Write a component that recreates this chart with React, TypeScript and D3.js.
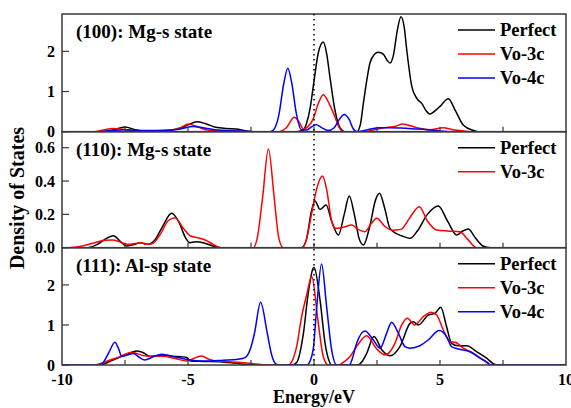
import React from "react";
import * as d3 from "d3";

type Pt = [number, number];

// ---------- data: (energy eV, DOS) ----------
const p100Perfect: Pt[] = [[-10,0],[-8.4,0],[-8.0,0.04],[-7.5,0.12],[-7.1,0.05],[-6.6,0.02],[-6.0,0.03],[-5.4,0.07],[-5.0,0.17],[-4.65,0.25],[-4.3,0.2],[-3.9,0.11],[-3.5,0.08],[-3.1,0.07],[-2.7,0.02],[-2.4,0],[-0.7,0],[-0.45,0.03],[-0.3,0.2],[-0.15,0.6],[-0.03,1.12],[0.17,1.96],[0.37,2.23],[0.5,1.95],[0.63,1.37],[0.83,0.54],[1.03,0.1],[1.23,0],[1.7,0],[1.83,0.15],[1.96,0.71],[2.1,1.3],[2.22,1.71],[2.4,1.93],[2.55,1.98],[2.75,1.93],[2.9,1.78],[3.02,1.71],[3.15,1.9],[3.3,2.5],[3.45,2.86],[3.58,2.6],[3.68,2.04],[3.88,1.13],[4.08,0.83],[4.28,0.7],[4.45,0.52],[4.6,0.44],[4.8,0.52],[5.0,0.63],[5.33,0.82],[5.6,0.54],[5.93,0.16],[6.33,0.03],[6.52,0],[10,0]];
const p100Vo3c: Pt[] = [[-10,0],[-8.7,0],[-8.3,0.05],[-8.0,0.08],[-7.6,0.06],[-7.2,0.02],[-6.5,0.01],[-5.8,0.03],[-5.3,0.1],[-4.98,0.19],[-4.7,0.14],[-4.3,0.05],[-3.8,0.02],[-3.0,0.01],[-2.5,0],[-1.4,0],[-1.1,0.1],[-0.78,0.36],[-0.6,0.25],[-0.42,0.07],[-0.25,0.12],[-0.03,0.32],[0.17,0.7],[0.37,0.92],[0.6,0.7],[0.83,0.37],[1.0,0.1],[1.16,0],[2.0,0],[2.4,0.05],[2.8,0.1],[3.2,0.13],[3.54,0.19],[3.8,0.15],[4.08,0.1],[4.6,0.05],[5.13,0.1],[5.5,0.05],[5.8,0.03],[6.2,0],[10,0]];
const p100Vo4c: Pt[] = [[-10,0],[-8.5,0],[-8.0,0.03],[-7.5,0.05],[-7.0,0.03],[-6.0,0.03],[-5.3,0.07],[-4.8,0.13],[-4.4,0.1],[-3.8,0.04],[-3.0,0.02],[-2.3,0],[-1.75,0],[-1.6,0.05],[-1.4,0.4],[-1.2,1.2],[-1.04,1.58],[-0.88,1.2],[-0.7,0.45],[-0.5,0.05],[-0.3,0.04],[-0.1,0.12],[0.09,0.17],[0.3,0.1],[0.56,0.03],[0.8,0.1],[1.0,0.3],[1.2,0.43],[1.4,0.3],[1.55,0.08],[1.7,0],[2.0,0.03],[2.55,0.1],[3.0,0.1],[3.45,0.09],[4.0,0.07],[4.5,0.05],[5.0,0.02],[5.4,0],[10,0]];

const p110Perfect: Pt[] = [[-10,0],[-9.0,0],[-8.6,0.02],[-8.3,0.05],[-7.96,0.072],[-7.7,0.04],[-7.43,0.01],[-7.1,0.02],[-6.9,0.03],[-6.6,0.02],[-6.3,0.05],[-6.0,0.13],[-5.65,0.206],[-5.35,0.15],[-5.1,0.06],[-4.92,0.03],[-4.7,0.035],[-4.4,0.03],[-4.0,0.01],[-3.7,0],[-0.5,0],[-0.3,0.05],[-0.1,0.22],[0.04,0.28],[0.24,0.23],[0.48,0.256],[0.7,0.16],[0.97,0.076],[1.2,0.2],[1.4,0.31],[1.6,0.2],[1.8,0.05],[1.96,0.016],[2.2,0.12],[2.45,0.29],[2.6,0.326],[2.8,0.24],[3.0,0.12],[3.15,0.096],[3.5,0.07],[3.81,0.056],[4.1,0.1],[4.5,0.2],[4.93,0.25],[5.3,0.16],[5.66,0.076],[5.9,0.1],[6.12,0.112],[6.4,0.06],[6.7,0.01],[7.0,0],[10,0]];
const p110Vo3c: Pt[] = [[-10,0],[-9.7,0],[-9.2,0.01],[-8.7,0.03],[-8.3,0.045],[-8.0,0.046],[-7.7,0.035],[-7.4,0.02],[-7.1,0.025],[-6.9,0.03],[-6.6,0.02],[-6.4,0.025],[-6.1,0.08],[-5.8,0.16],[-5.52,0.18],[-5.2,0.12],[-4.9,0.07],[-4.6,0.06],[-4.3,0.045],[-4.0,0.02],[-3.7,0],[-2.4,0],[-2.25,0.06],[-2.04,0.3],[-1.81,0.592],[-1.58,0.3],[-1.4,0.06],[-1.22,0],[-0.45,0],[-0.3,0.05],[-0.1,0.2],[0.1,0.35],[0.34,0.43],[0.5,0.35],[0.7,0.16],[0.83,0.116],[1.1,0.12],[1.5,0.136],[1.75,0.11],[2.02,0.096],[2.25,0.14],[2.49,0.176],[2.8,0.13],[3.1,0.105],[3.45,0.11],[3.8,0.18],[4.18,0.246],[4.5,0.16],[4.87,0.106],[5.3,0.1],[5.79,0.096],[6.1,0.05],[6.46,0],[10,0]];

const p111Perfect: Pt[] = [[-10,0],[-8.5,0],[-8.36,0.02],[-8.0,0.12],[-7.7,0.2],[-7.3,0.3],[-7.01,0.35],[-6.75,0.3],[-6.5,0.21],[-6.25,0.23],[-6.04,0.25],[-5.6,0.22],[-5.05,0.19],[-4.9,0.1],[-4.4,0.09],[-3.73,0.08],[-3.2,0.05],[-2.8,0.02],[-2.4,0],[-0.85,0],[-0.69,0.06],[-0.42,0.79],[-0.23,1.79],[0,2.44],[0.24,1.62],[0.44,0.54],[0.6,0.1],[0.7,0],[1.76,0],[1.9,0.08],[2.09,0.29],[2.38,0.71],[2.69,0.38],[3.02,0.23],[3.41,0.46],[3.81,1.04],[3.94,1.08],[4.14,1.0],[4.54,1.25],[4.8,1.29],[5.03,1.44],[5.26,0.96],[5.46,0.54],[5.73,0.48],[6.06,0.48],[6.46,0.33],[6.85,0.17],[7.1,0.04],[7.25,0],[10,0]];
const p111Vo3c: Pt[] = [[-10,0],[-8.7,0],[-8.56,0.02],[-8.2,0.1],[-7.7,0.21],[-7.23,0.32],[-6.8,0.24],[-6.5,0.22],[-6.04,0.22],[-5.5,0.16],[-5.05,0.1],[-4.75,0.17],[-4.46,0.225],[-4.2,0.15],[-3.9,0.1],[-3.4,0.08],[-2.9,0.06],[-2.4,0.03],[-1.88,0],[-1.0,0],[-0.95,0.02],[-0.69,0.46],[-0.49,1.21],[-0.29,1.75],[-0.09,2.21],[0.17,1.04],[0.37,0.2],[0.57,0],[1.0,0],[1.1,0.04],[1.43,0.21],[1.69,0.46],[2.09,0.73],[2.49,0.4],[2.82,0.25],[3.21,0.54],[3.48,1.0],[3.7,1.17],[4.0,1.0],[4.34,1.21],[4.64,1.32],[4.87,1.25],[5.13,0.875],[5.4,0.58],[5.6,0.57],[5.93,0.42],[6.33,0.29],[6.72,0.13],[7.05,0],[10,0]];
const p111Vo4c: Pt[] = [[-10,0],[-8.6,0],[-8.43,0.02],[-8.15,0.3],[-7.9,0.57],[-7.75,0.4],[-7.63,0.21],[-7.4,0.25],[-7.17,0.29],[-6.95,0.2],[-6.71,0.125],[-6.4,0.2],[-6.04,0.27],[-5.5,0.2],[-4.92,0.125],[-4.5,0.1],[-4.1,0.1],[-3.6,0.12],[-3.07,0.14],[-2.8,0.17],[-2.67,0.22],[-2.5,0.45],[-2.36,0.8],[-2.12,1.57],[-1.85,0.78],[-1.7,0.3],[-1.55,0.05],[-1.4,0],[-0.3,0],[-0.23,0.02],[-0.03,0.4],[0.11,1.46],[0.3,2.52],[0.5,1.46],[0.7,0.38],[0.9,0],[1.4,0],[1.5,0.12],[1.69,0.54],[2.02,0.85],[2.35,0.63],[2.62,0.42],[2.88,0.79],[3.08,1.07],[3.35,0.79],[3.61,0.46],[3.81,0.42],[4.2,0.48],[4.54,0.63],[4.97,0.86],[5.26,0.71],[5.46,0.46],[5.73,0.4],[6.19,0.33],[6.59,0.17],[6.92,0.04],[6.98,0],[10,0]];

const xTickValues = [-10, -5, 0, 5, 10];
const xMinorTicks = [-7.5, -5, -2.5, 0, 2.5, 5, 7.5];
const ticks100 = [0, 1, 2];
const ticks110 = [0, 0.2, 0.4, 0.6];
const ticks111 = [0, 1, 2];
const seriesNames = ["Perfect", "Vo-3c", "Vo-4c"];
const seriesColors = ["#000000", "#ff0000", "#0000ff"];

const FONT = "'Liberation Serif', 'Times New Roman', serif";

interface Panel {
  title: string;
  top: number;
  bottom: number;
  yMax: number;
  ticks: number[];
  fmt: (v: number) => string;
  series: Pt[][];
}

const panels: Panel[] = [
  { title: "(100): Mg-s state", top: 14, bottom: 131.7, yMax: 2.93, ticks: ticks100, fmt: (v) => d3.format("d")(v), series: [p100Perfect, p100Vo3c, p100Vo4c] },
  { title: "(110): Mg-s state", top: 131.7, bottom: 247.7, yMax: 0.696, ticks: ticks110, fmt: (v) => d3.format(".1f")(v), series: [p110Perfect, p110Vo3c] },
  { title: "(111): Al-sp state", top: 247.7, bottom: 365, yMax: 2.93, ticks: ticks111, fmt: (v) => d3.format("d")(v), series: [p111Perfect, p111Vo3c, p111Vo4c] },
];

const X0 = 62, X1 = 566;

export default function App() {
  const x = d3.scaleLinear().domain([-10, 10]).range([X0, X1]);
  const frame = "#3a3a3a";
  return (
    <svg width={571} height={408} style={{ position: "absolute", left: 0, top: 0, background: "#fff" }} fontFamily={FONT}>
      {panels.map((p, pi) => {
        const y = d3.scaleLinear().domain([0, p.yMax]).range([p.bottom, p.top]);
        const line = d3.line<Pt>().x((d) => x(d[0])).y((d) => y(d[1])).curve(d3.curveMonotoneX);
        const legendTop = p.top + 16;
        return (
          <g key={pi}>
            <defs>
              <clipPath id={`clip${pi}`}>
                <rect x={X0} y={p.top} width={X1 - X0} height={p.bottom - p.top} />
              </clipPath>
            </defs>
            <g clipPath={`url(#clip${pi})`}>
              {p.series.map((s, si) => (
                <path key={si} d={line(s) || ""} fill="none" stroke={seriesColors[si]} strokeWidth={1.5} />
              ))}
            </g>
            {p.ticks.map((t) => (
              <g key={t}>
                <line x1={X0} x2={X0 + 7} y1={y(t)} y2={y(t)} stroke={frame} strokeWidth={1.2} />
                <text x={55} y={y(t)} dy="0.35em" textAnchor="end" fontSize={16} fontWeight="bold">{p.fmt(t)}</text>
              </g>
            ))}
            {xMinorTicks.map((t) => (
              <line key={t} x1={x(t)} x2={x(t)} y1={p.bottom} y2={p.bottom - 5} stroke={frame} strokeWidth={1.2} />
            ))}
            <rect x={X0} y={p.top} width={X1 - X0} height={p.bottom - p.top} fill="none" stroke={frame} strokeWidth={1.5} />
            <text x={76} y={p.top + 24} fontSize={19} fontWeight="bold">{p.title}</text>
            {p.series.map((_, si) => (
              <g key={si}>
                <line x1={458} x2={495} y1={legendTop + si * 24} y2={legendTop + si * 24} stroke={seriesColors[si]} strokeWidth={1.5} />
                <text x={500} y={legendTop + si * 24 + 6} fontSize={18.5} fontWeight="bold">{seriesNames[si]}</text>
              </g>
            ))}
          </g>
        );
      })}
      <line x1={x(0)} x2={x(0)} y1={14} y2={365} stroke="#000" strokeWidth={1.5} strokeDasharray="1.5,3.5" />
      {xTickValues.map((t) => (
        <text key={t} x={x(t)} y={385} textAnchor="middle" fontSize={16} fontWeight="bold">{t}</text>
      ))}
      <text x={x(0)} y={403} textAnchor="middle" fontSize={18} fontWeight="bold">Energy/eV</text>
      <text transform="translate(24,198) rotate(-90)" textAnchor="middle" fontSize={20} fontWeight="bold">Density of States</text>
    </svg>
  );
}
